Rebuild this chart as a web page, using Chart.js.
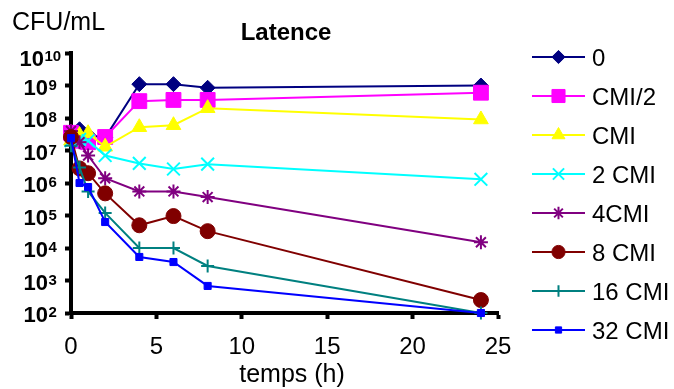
<!DOCTYPE html>
<html>
<head>
<meta charset="utf-8">
<script src="https://cdn.jsdelivr.net/npm/chart.js@4/dist/chart.umd.min.js"></script>
<style>
  html, body { margin: 0; padding: 0; background: #fff; }
  canvas { display: block; }
</style>
</head>
<body>
<canvas id="graphe" width="674" height="389"></canvas>
<script>
// Données (CFU/mL en fonction du temps)
const temps = [0, 0.5, 1, 2, 4, 6, 8, 24];
const noms = ["0", "CMI/2", "CMI", "2 CMI", "4CMI", "8 CMI", "16 CMI", "32 CMI"];

const cmi0     = [3e7, 4.5e7, 3e7, 2.5e7, 1.1e9, 1.1e9, 8.5e8, 1e9];
const cmiDemi  = [3.5e7, 2e7, 1.8e7, 2.6e7, 3.3e8, 3.6e8, 3.6e8, 6e8];
const cmi1     = [2e7, 3e7, 3.4e7, 1.3e7, 5.2e7, 6e7, 2e8, 9e7];
const cmi2     = [2e7, 2.2e7, 2e7, 7e6, 4e6, 2.7e6, 3.8e6, 1.3e6];
const cmi4     = [4e7, 1.8e7, 7e6, 1.4e6, 5.5e5, 5.5e5, 3.7e5, 1.5e4];
const cmi8     = [2.6e7, 2.8e6, 2e6, 4.8e5, 5e4, 9.6e4, 3.3e4, 2.5e2];
const cmi16    = [1.4e7, 3e6, 5.5e5, 1.2e5, 1e4, 1e4, 2.8e3, 1e2];
const cmi32    = [2.4e7, 1e6, 7.5e5, 6.3e4, 5.3e3, 3.7e3, 6.8e2, 1e2];

const exposants = [2, 3, 4, 5, 6, 7, 8, 9, 10];
const xTicks = [0, 5, 10, 15, 20, 25];

const series = [cmi0, cmiDemi, cmi1, cmi2, cmi4, cmi8, cmi16, cmi32];
const couleurs = ["#000080", "#FF00FF", "#FFFF00", "#00FFFF", "#800080", "#800000", "#008080", "#0000FF"];
const marqueurs = ["rectRot", "rect", "triangle", "crossRot", "star", "circle", "cross", "rect"];
const tailles = [7.5, 10.5, 8.5, 9, 7, 7.5, 6.5, 5];

const POLICE = '"Liberation Sans", Arial, sans-serif';
Chart.defaults.font.family = POLICE;
Chart.defaults.color = "#000";

function estTrait(style) {
    return style === "crossRot" || style === "star" || style === "cross";
}

// Textes (titre, axes, légende) dessinés à la main
const textesPlugin = {
    id: "textes",
    afterDraw(chart) {
        const ctx = chart.ctx;
        const y = chart.scales.y;
        ctx.save();
        ctx.fillStyle = "#000";
        ctx.textBaseline = "alphabetic";

        ctx.font = "bold 24px " + POLICE;
        ctx.textAlign = "center";
        ctx.fillText("Latence", 286, 40);

        ctx.font = "25px " + POLICE;
        ctx.textAlign = "left";
        ctx.fillText("CFU/mL", 12, 30);
        ctx.textAlign = "center";
        ctx.fillText("temps (h)", 292, 382);

        // étiquettes 10^n
        ctx.textAlign = "left";
        exposants.forEach(e => {
            const py = y.getPixelForValue(Math.pow(10, e)) + (e === 10 ? 5 : 1);
            ctx.font = "bold 22px " + POLICE;
            const w1 = ctx.measureText("10").width;
            ctx.font = "bold 15px " + POLICE;
            const w2 = ctx.measureText(String(e)).width;
            const x0 = 40 - (w1 + w2) / 2;
            ctx.font = "bold 22px " + POLICE;
            ctx.fillText("10", x0, py + 8);
            ctx.font = "bold 15px " + POLICE;
            ctx.fillText(String(e), x0 + w1 + 0.5, py + 3);
        });

        // légende
        noms.forEach((nom, i) => {
            const ly = 57 + 39 * i;
            ctx.strokeStyle = couleurs[i];
            ctx.lineWidth = 2;
            ctx.beginPath();
            ctx.moveTo(532, ly);
            ctx.lineTo(585, ly);
            ctx.stroke();
            ctx.fillStyle = couleurs[i];
            ctx.lineWidth = estTrait(marqueurs[i]) ? 2 : 1;
            Chart.helpers.drawPoint(ctx, {
                pointStyle: marqueurs[i],
                radius: tailles[i] * 0.88,
                rotation: 0,
                borderWidth: ctx.lineWidth
            }, 558.5, ly);
            ctx.fillStyle = "#000";
            ctx.font = "24px " + POLICE;
            ctx.fillText(nom, 592, ly + 8.6);
        });
        ctx.restore();
    }
};

const datasets = series.map((valeurs, i) => ({
    label: noms[i],
    data: temps.map((t, k) => ({ x: t, y: valeurs[k] })),
    borderColor: couleurs[i],
    backgroundColor: couleurs[i],
    borderWidth: 2,
    pointStyle: marqueurs[i],
    pointRadius: tailles[i],
    pointBorderWidth: estTrait(marqueurs[i]) ? 2 : 1,
    pointBackgroundColor: couleurs[i],
    pointBorderColor: couleurs[i],
    tension: 0,
    clip: false,
    order: series.length - i
}));

const axeCommun = {
    border: { color: "#000", width: 4 },
    grid: { drawOnChartArea: false, drawTicks: true, tickLength: 6, tickWidth: 4, tickColor: "#000" }
};

new Chart(document.getElementById("graphe"), {
    type: "line",
    data: { datasets },
    plugins: [textesPlugin],
    options: {
        responsive: false,
        animation: false,
        layout: { padding: { left: 0, right: 176, top: 53, bottom: 0 } },
        plugins: {
            legend: { display: false },
            title: { display: false },
            tooltip: { enabled: false }
        },
        scales: {
            x: {
                ...axeCommun,
                type: "linear",
                min: 0,
                max: 25,
                afterBuildTicks: s => { s.ticks = xTicks.map(v => ({ value: v })); },
                afterFit: s => { s.height = 76; },
                ticks: { color: "#000", font: { size: 24 }, padding: 14, maxRotation: 0 }
            },
            y: {
                ...axeCommun,
                type: "logarithmic",
                min: 100,
                max: 1e10,
                afterBuildTicks: s => { s.ticks = exposants.map(e => ({ value: Math.pow(10, e) })); },
                afterFit: s => { s.width = 71; },
                ticks: { callback: () => "" }
            }
        }
    }
});
</script>
</body>
</html>
